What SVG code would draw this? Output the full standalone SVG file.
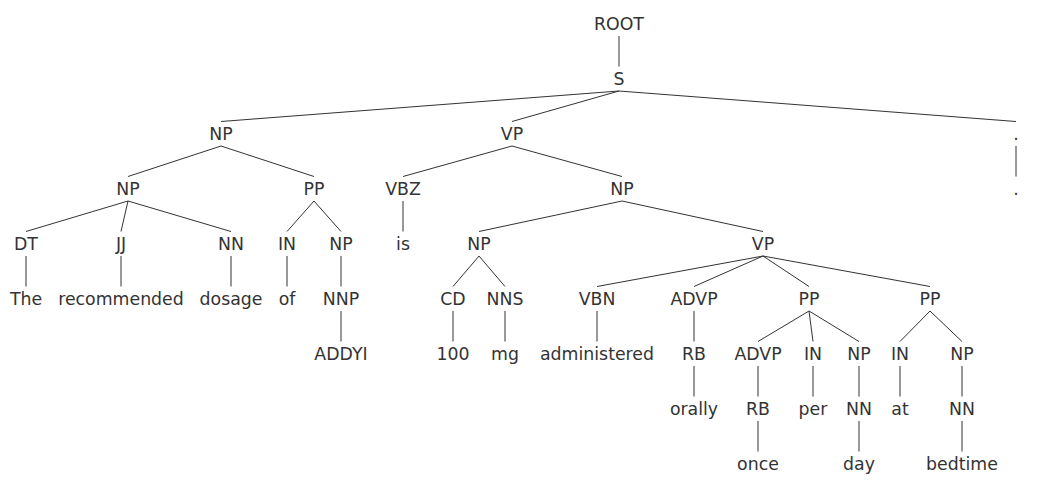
<svg xmlns="http://www.w3.org/2000/svg" width="1050" height="485" viewBox="0 0 1050 485">
<style>
text{font-family:"DejaVu Sans","Liberation Sans",sans-serif;font-size:17.33px;fill:#333;text-anchor:middle}
.c line{stroke:#333;stroke-width:1}
</style>
<rect width="1050" height="485" fill="#fff"/>
<g class="c" id="connectors">
<line x1="619" y1="36" x2="619" y2="66.5"/>
<line x1="619" y1="91" x2="221" y2="121.5"/>
<line x1="619" y1="91" x2="512" y2="121.5"/>
<line x1="619" y1="91" x2="1016" y2="121.5"/>
<line x1="221" y1="146" x2="128" y2="176.5"/>
<line x1="221" y1="146" x2="314" y2="176.5"/>
<line x1="512" y1="146" x2="403" y2="176.5"/>
<line x1="512" y1="146" x2="622" y2="176.5"/>
<line x1="1016" y1="146" x2="1016" y2="176.5"/>
<line x1="128" y1="201" x2="26" y2="231.5"/>
<line x1="128" y1="201" x2="121" y2="231.5"/>
<line x1="128" y1="201" x2="231" y2="231.5"/>
<line x1="314" y1="201" x2="287" y2="231.5"/>
<line x1="314" y1="201" x2="341" y2="231.5"/>
<line x1="403" y1="201" x2="403" y2="231.5"/>
<line x1="622" y1="201" x2="479" y2="231.5"/>
<line x1="622" y1="201" x2="763" y2="231.5"/>
<line x1="26" y1="256" x2="26" y2="286.5"/>
<line x1="121" y1="256" x2="121" y2="286.5"/>
<line x1="231" y1="256" x2="231" y2="286.5"/>
<line x1="287" y1="256" x2="287" y2="286.5"/>
<line x1="341" y1="256" x2="341" y2="286.5"/>
<line x1="479" y1="256" x2="453" y2="286.5"/>
<line x1="479" y1="256" x2="505" y2="286.5"/>
<line x1="763" y1="256" x2="597" y2="286.5"/>
<line x1="763" y1="256" x2="694" y2="286.5"/>
<line x1="763" y1="256" x2="809" y2="286.5"/>
<line x1="763" y1="256" x2="930" y2="286.5"/>
<line x1="341" y1="311" x2="341" y2="341.5"/>
<line x1="453" y1="311" x2="453" y2="341.5"/>
<line x1="505" y1="311" x2="505" y2="341.5"/>
<line x1="597" y1="311" x2="597" y2="341.5"/>
<line x1="694" y1="311" x2="694" y2="341.5"/>
<line x1="809" y1="311" x2="758" y2="341.5"/>
<line x1="809" y1="311" x2="813" y2="341.5"/>
<line x1="809" y1="311" x2="859" y2="341.5"/>
<line x1="930" y1="311" x2="900" y2="341.5"/>
<line x1="930" y1="311" x2="962" y2="341.5"/>
<line x1="694" y1="366" x2="694" y2="396.5"/>
<line x1="758" y1="366" x2="758" y2="396.5"/>
<line x1="813" y1="366" x2="813" y2="396.5"/>
<line x1="859" y1="366" x2="859" y2="396.5"/>
<line x1="900" y1="366" x2="900" y2="396.5"/>
<line x1="962" y1="366" x2="962" y2="396.5"/>
<line x1="758" y1="421" x2="758" y2="451.5"/>
<line x1="859" y1="421" x2="859" y2="451.5"/>
<line x1="962" y1="421" x2="962" y2="451.5"/>
</g>
<g id="n-root"><text x="619" y="30">ROOT</text></g>
<g id="n-s"><text x="619" y="85">S</text></g>
<g id="n-np1"><text x="221" y="140">NP</text></g>
<g id="n-vp1"><text x="512" y="140">VP</text></g>
<g id="n-punct"><text x="1016" y="140">.</text></g>
<g id="n-np2"><text x="128" y="195">NP</text></g>
<g id="n-pp1"><text x="314" y="195">PP</text></g>
<g id="n-vbz"><text x="403" y="195">VBZ</text></g>
<g id="n-np3"><text x="622" y="195">NP</text></g>
<g id="w-period"><text x="1016" y="195">.</text></g>
<g id="n-dt"><text x="26" y="250">DT</text></g>
<g id="n-jj"><text x="121" y="250">JJ</text></g>
<g id="n-nn1"><text x="231" y="250">NN</text></g>
<g id="n-in1"><text x="287" y="250">IN</text></g>
<g id="n-np4"><text x="341" y="250">NP</text></g>
<g id="w-is"><text x="403" y="250">is</text></g>
<g id="n-np5"><text x="479" y="250">NP</text></g>
<g id="n-vp2"><text x="763" y="250">VP</text></g>
<g id="w-the"><text x="26" y="305">The</text></g>
<g id="w-recommended"><text x="121" y="305">recommended</text></g>
<g id="w-dosage"><text x="231" y="305">dosage</text></g>
<g id="w-of"><text x="287" y="305">of</text></g>
<g id="n-nnp"><text x="341" y="305">NNP</text></g>
<g id="n-cd"><text x="453" y="305">CD</text></g>
<g id="n-nns"><text x="505" y="305">NNS</text></g>
<g id="n-vbn"><text x="597" y="305">VBN</text></g>
<g id="n-advp1"><text x="694" y="305">ADVP</text></g>
<g id="n-pp2"><text x="809" y="305">PP</text></g>
<g id="n-pp3"><text x="930" y="305">PP</text></g>
<g id="w-addyi"><text x="341" y="360">ADDYI</text></g>
<g id="w-100"><text x="453" y="360">100</text></g>
<g id="w-mg"><text x="505" y="360">mg</text></g>
<g id="w-administered"><text x="597" y="360">administered</text></g>
<g id="n-rb1"><text x="694" y="360">RB</text></g>
<g id="n-advp2"><text x="758" y="360">ADVP</text></g>
<g id="n-in2"><text x="813" y="360">IN</text></g>
<g id="n-np6"><text x="859" y="360">NP</text></g>
<g id="n-in3"><text x="900" y="360">IN</text></g>
<g id="n-np7"><text x="962" y="360">NP</text></g>
<g id="w-orally"><text x="694" y="415">orally</text></g>
<g id="n-rb2"><text x="758" y="415">RB</text></g>
<g id="w-per"><text x="813" y="415">per</text></g>
<g id="n-nn2"><text x="859" y="415">NN</text></g>
<g id="w-at"><text x="900" y="415">at</text></g>
<g id="n-nn3"><text x="962" y="415">NN</text></g>
<g id="w-once"><text x="758" y="470">once</text></g>
<g id="w-day"><text x="859" y="470">day</text></g>
<g id="w-bedtime"><text x="962" y="470">bedtime</text></g>
</svg>
